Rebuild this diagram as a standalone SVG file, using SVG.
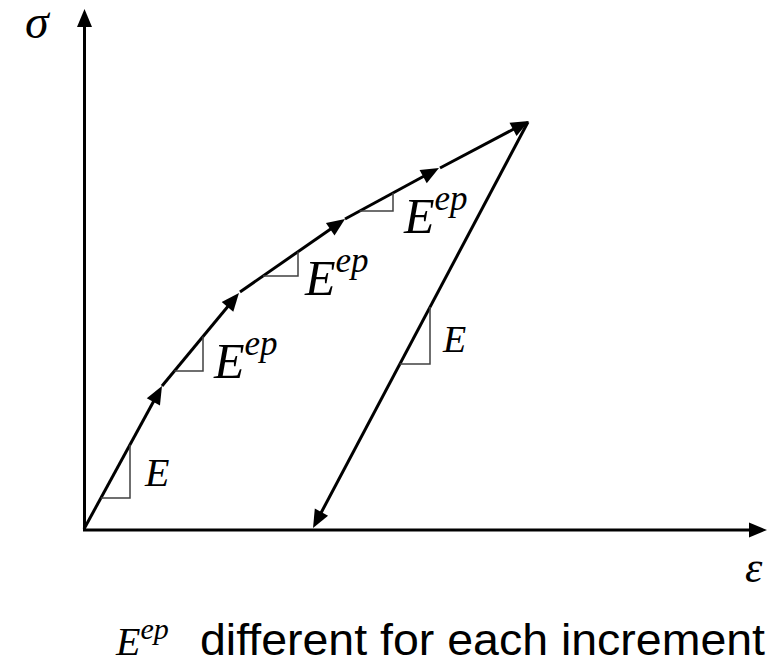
<svg xmlns="http://www.w3.org/2000/svg" width="772" height="664" viewBox="0 0 772 664">
<style>
.ln{stroke:#000;stroke-width:3;fill:none;marker-end:url(#ah)}
.tri{stroke:#404040;stroke-width:1.5;fill:none}
.m{font-family:"Liberation Serif","Times New Roman",serif;font-style:italic;fill:#000}
.s{font-family:"Liberation Sans",Arial,sans-serif;fill:#000}
</style>
<defs>
<marker id="ah" markerUnits="userSpaceOnUse" markerWidth="20" markerHeight="16" viewBox="0 -8 18 16" refX="8" refY="0" orient="auto">
<path d="M0,-7.5 L18,0 L0,7.5 z" fill="#000"/>
</marker>
</defs>
<rect width="772" height="664" fill="#fff"/>
<g id="connectors">
<line class="ln" x1="84.5" y1="530" x2="84.5" y2="19"/>
<line class="ln" x1="83" y1="530" x2="757" y2="530"/>
<line class="ln" x1="84" y1="529" x2="157.2" y2="394.8"/>
<line class="ln" x1="162" y1="386" x2="232.6" y2="300.7"/>
<line class="ln" x1="240" y1="292" x2="336.8" y2="224.7"/>
<line class="ln" x1="345" y1="219" x2="430.2" y2="172.8"/>
<line class="ln" x1="440" y1="168" x2="520.1" y2="125.7"/>
<line class="ln" x1="528" y1="122" x2="317.7" y2="519.2"/>
</g>
<g id="tri1"><polyline class="tri" points="100.9,498 130,498 130,444.7"/></g>
<g id="tri2"><polyline class="tri" points="174.4,371 203,371 203,336.5"/></g>
<g id="tri3"><polyline class="tri" points="263,276 298,276 298,251.7"/></g>
<g id="tri4"><polyline class="tri" points="359.7,211 393,211 393,193"/></g>
<g id="tri5"><polyline class="tri" points="399.8,364 430,364 430,307"/></g>
<g id="labels">
<text class="m" x="25" y="38" font-size="48">σ</text>
<text class="m" x="745" y="582" font-size="44">ε</text>
<text class="m" x="145" y="486" font-size="40">E</text>
<text class="m" x="443" y="352" font-size="38">E</text>
<text class="m" x="214" y="378" font-size="50">E<tspan font-size="35" dy="-23">ep</tspan></text>
<text class="m" x="305" y="295" font-size="50">E<tspan font-size="35" dy="-23">ep</tspan></text>
<text class="m" x="404" y="233" font-size="50">E<tspan font-size="35" dy="-23">ep</tspan></text>
<text class="m" x="116" y="655" font-size="40">E<tspan font-size="30" dy="-16">ep</tspan></text>
<text class="s" x="200" y="655" font-size="44" textLength="565" lengthAdjust="spacingAndGlyphs">different for each increment</text>
</g>
</svg>
